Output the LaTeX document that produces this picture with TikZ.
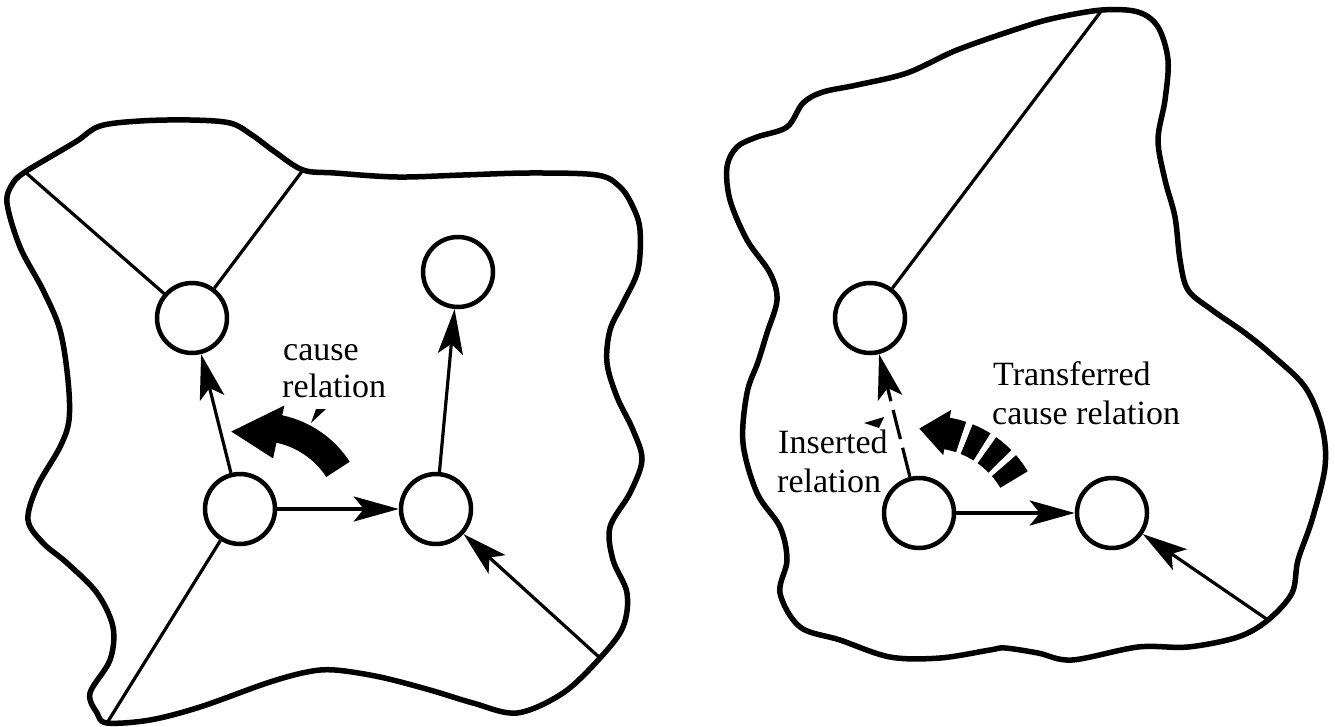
\documentclass[tikz,border=0pt]{standalone}
\usepackage{fontspec}
\setmainfont{Liberation Serif}
\usetikzlibrary{arrows.meta}
\begin{document}
\begin{tikzpicture}[x=1pt,y=-1pt,
  blob/.style={line width=5.5pt, line join=round},
  nd/.style={circle, draw, line width=4.5pt, minimum size=70pt, inner sep=0pt},
  edge/.style={line width=3.2pt},
  arr/.style={edge, -{Stealth[length=45pt,width=25pt,inset=10pt]}},
  darr/.style={arr, dash pattern=on 30pt off 9pt},
  lbl/.style={anchor=base west, inner sep=0pt, font=\fontsize{34}{39}\selectfont}]
\useasboundingbox (0,0) rectangle (1335,727);

% ---------- left blob ----------
\draw[blob] plot[smooth cycle, tension=0.55] coordinates {
 (25,172) (50,157) (77,141) (100,126) (140,121) (190,120) (230,123) (252,135)
 (275,152) (303,170) (335,173) (397,177) (463,175) (530,173) (597,175)
 (620,187) (633,207) (640,230) (638,270) (623,303) (610,330) (607,363)
 (617,397) (633,430) (642,460) (630,493) (610,527) (613,560) (627,593)
 (623,627) (600,658) (563,693) (517,713) (473,703) (430,690) (380,677)
 (335,670) (307,672) (267,683) (200,707) (150,720) (107,723) (97,713)
 (90,693) (110,660) (113,627) (97,593) (67,563) (43,543) (28,520)
 (37,487) (60,447) (69,420) (68,380) (60,330) (43,290) (20,247) (7,203) (13,183)};

\coordinate (lc1) at (25,172);
\coordinate (lc2) at (303,170);
\coordinate (lc3) at (107,723);
\coordinate (lc4) at (600,658);

\node[nd] (A) at (192,318) {};
\node[nd] (B) at (458,272) {};
\node[nd] (C) at (240,509) {};
\node[nd] (D) at (436,509) {};

\draw[edge] (A) -- (lc1);
\draw[edge] (A) -- (lc2);
\draw[edge] (C) -- (lc3);
\draw[arr] (C) -- (A);
\draw[arr] (C) -- (D);
\draw[arr] (D) -- (B);
\draw[arr] (lc4) -- (D);

% cause relation arrow
\begin{scope}[shift={(260,520)}]
\fill (-33:107) arc[start angle=-33,end angle=-78,radius=107] -- (-78:117)
  -- (-108:93) -- (-78:63) -- (-78:79) arc[start angle=-78,end angle=-33,radius=79] -- cycle;
\end{scope}
\fill (316,409) -- (326,409) -- (311,423) -- cycle;
\node[lbl] (t1) at (283,360) {cause};
\node[lbl] (t2) at (282,397) {relation};

% ---------- right blob ----------
\draw[blob] plot[smooth cycle, tension=0.55] coordinates {
 (1102,10) (1138,12) (1158,27) (1168,60) (1165,100) (1158,140) (1165,180)
 (1175,217) (1180,260) (1188,290) (1212,310) (1245,333) (1272,355)
 (1305,387) (1322,427) (1325,467) (1312,520) (1298,560) (1292,593)
 (1268,620) (1238,637) (1188,647) (1138,647) (1072,660) (1038,653)
 (1005,648) (990,650) (940,658) (890,657) (840,640) (800,627) (780,593)
 (787,560) (780,527) (757,493) (743,443) (747,393) (758,362) (767,333)
 (777,300) (770,273) (747,240) (730,200) (727,167) (737,147) (757,137)
 (787,127) (803,103) (823,92) (857,85) (907,73) (957,50) (1020,28) (1055,18)};

\coordinate (rc1) at (1102,10);
\coordinate (rc2) at (1268,620);

\node[nd] (E) at (870,318) {};
\node[nd] (F) at (919,513) {};
\node[nd] (G) at (1112,513) {};

\draw[edge] (E) -- (rc1);
\draw[darr] (F) -- (E);
\draw[arr] (F) -- (G);
\draw[arr] (rc2) -- (G);

% transferred cause relation arrow (broken)
\begin{scope}[shift={(930,530)}]
\fill (-31:114) arc[start angle=-31,end angle=-41,radius=114] -- (-41:82)
  arc[start angle=-41,end angle=-31,radius=82] -- cycle;
\fill (-44.5:114) arc[start angle=-44.5,end angle=-54.5,radius=114] -- (-54.5:82)
  arc[start angle=-54.5,end angle=-44.5,radius=82] -- cycle;
\fill (-58:114) arc[start angle=-58,end angle=-68,radius=114] -- (-68:82)
  arc[start angle=-68,end angle=-58,radius=82] -- cycle;
\fill (-71.5:114) arc[start angle=-71.5,end angle=-80,radius=114] -- (-80:122)
  -- (-96:102) -- (-80:76) -- (-80:82) arc[start angle=-80,end angle=-71.5,radius=82] -- cycle;
\end{scope}
\fill (864,423) -- (884,417) -- (879,428) -- cycle;

\node[lbl] (t3) at (993,385) {Transferred};
\node[lbl] (t4) at (992,424) {cause relation};
\node[lbl] (t5) at (778,453) {Inserted};
\node[lbl] (t6) at (777,492) {relation};
\end{tikzpicture}
\end{document}
